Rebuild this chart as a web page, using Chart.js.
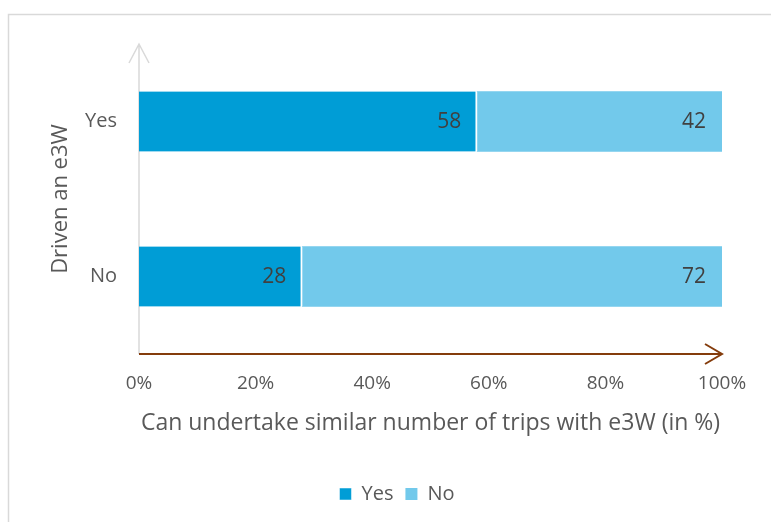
<!DOCTYPE html>
<html>
<head>
<meta charset="utf-8">
<script src="https://cdn.jsdelivr.net/npm/chart.js@4"></script>
<style>
  html, body { margin: 0; padding: 0; background: #ffffff; overflow: hidden; }
  canvas { display: block; }
</style>
</head>
<body>
<canvas id="chart" width="771" height="522"></canvas>
<script>
// Categories on the vertical axis (answer to "Driven an e3W")
const categories = ['Yes', 'No'];
// Share answering "Yes" / "No" to undertaking a similar number of trips (%)
const yesValues = [58, 28];
const noValues = [42, 72];
// Percent ticks along the horizontal axis
const xTicks = [0, 20, 40, 60, 80, 100];

const FONT = "'Open Sans', 'DejaVu Sans', sans-serif";
const TEXT_GREY = '#595959';

// Outer frame of the chart
const framePlugin = {
  id: 'frame',
  beforeDraw(chart) {
    const ctx = chart.ctx;
    ctx.save();
    ctx.fillStyle = '#ffffff';
    ctx.fillRect(0, 0, chart.width, chart.height);
    ctx.strokeStyle = '#d9d9d9';
    ctx.lineWidth = 1.5;
    ctx.strokeRect(8.5, 14.5, chart.width + 50, chart.height + 50);
    ctx.restore();
  },
  // keep the legend centred under the plot rather than the whole canvas
  afterLayout(chart) {
    const lg = chart.legend;
    if (lg) {
      lg.left += 36;
      lg.right += 36;
    }
  }
};

// Axis lines drawn as arrows
const arrowAxesPlugin = {
  id: 'arrowAxes',
  beforeDatasetsDraw(chart) {
    const {ctx, chartArea} = chart;
    const x0 = chart.scales.x.getPixelForValue(0);
    ctx.save();
    ctx.strokeStyle = '#d9d9d9';
    ctx.lineWidth = 1.5;
    ctx.beginPath();
    ctx.moveTo(x0, chartArea.bottom);
    ctx.lineTo(x0, chartArea.top);
    ctx.moveTo(x0 - 10, chartArea.top + 19);
    ctx.lineTo(x0, chartArea.top);
    ctx.lineTo(x0 + 10, chartArea.top + 19);
    ctx.stroke();
    ctx.restore();
  },
  afterDatasetsDraw(chart) {
    const {ctx, chartArea} = chart;
    const x0 = chart.scales.x.getPixelForValue(0);
    const x1 = chart.scales.x.getPixelForValue(100);
    const y = chartArea.bottom;
    ctx.save();
    ctx.strokeStyle = '#843c0c';
    ctx.lineWidth = 2;
    ctx.beginPath();
    ctx.moveTo(x0, y);
    ctx.lineTo(x1, y);
    ctx.moveTo(x1 - 17, y - 10);
    ctx.lineTo(x1, y);
    ctx.lineTo(x1 - 17, y + 10);
    ctx.stroke();
    ctx.restore();
  }
};

// Value labels placed inside the end of each bar segment
const valueLabelPlugin = {
  id: 'valueLabels',
  afterDatasetsDraw(chart) {
    const ctx = chart.ctx;
    ctx.save();
    ctx.font = "21px " + FONT;
    ctx.fillStyle = '#404040';
    ctx.textAlign = 'right';
    ctx.textBaseline = 'middle';
    chart.data.datasets.forEach((ds, di) => {
      const meta = chart.getDatasetMeta(di);
      meta.data.forEach((bar, i) => {
        ctx.fillText(String(ds.data[i]), bar.x - 16, bar.y + 1);
      });
    });
    ctx.restore();
  }
};

new Chart(document.getElementById('chart'), {
  type: 'bar',
  data: {
    labels: categories,
    datasets: [
      {
        label: 'Yes',
        data: yesValues,
        backgroundColor: '#009dd6',
        borderColor: '#ffffff',
        borderWidth: {top: 0, right: 2, bottom: 0, left: 0},
        borderSkipped: false,
        barThickness: 60
      },
      {
        label: 'No',
        data: noValues,
        backgroundColor: '#72c9eb',
        borderWidth: 0,
        barThickness: 60
      }
    ]
  },
  options: {
    indexAxis: 'y',
    responsive: false,
    animation: false,
    devicePixelRatio: 1,
    layout: {padding: {left: 0, top: 44, right: 49, bottom: 8}},
    plugins: {
      legend: {
        position: 'bottom',
        labels: {
          font: {family: FONT, size: 20},
          color: TEXT_GREY,
          boxWidth: 12,
          boxHeight: 12,
          padding: 12
        }
      },
      tooltip: {enabled: false}
    },
    scales: {
      x: {
        stacked: true,
        min: 0,
        max: 100,
        afterBuildTicks(scale) {
          scale.ticks = xTicks.map(v => ({value: v}));
        },
        afterFit(scale) { scale.height = 118; },
        grid: {display: false, drawTicks: false},
        border: {display: false},
        ticks: {
          padding: 18,
          color: TEXT_GREY,
          font: {family: FONT, size: 19},
          callback: v => v + '%'
        },
        title: {
          display: true,
          text: 'Can undertake similar number of trips with e3W (in %)',
          color: TEXT_GREY,
          font: {family: FONT, size: 23},
          padding: {top: 0, bottom: 35}
        }
      },
      y: {
        stacked: true,
        afterFit(scale) { scale.width = 139; },
        grid: {display: false, drawTicks: false},
        border: {display: false},
        ticks: {
          padding: 22,
          color: TEXT_GREY,
          font: {family: FONT, size: 20}
        },
        title: {
          display: true,
          text: 'Driven an e3W',
          color: TEXT_GREY,
          font: {family: FONT, size: 22},
          padding: {top: 48, bottom: 0}
        }
      }
    }
  },
  plugins: [framePlugin, arrowAxesPlugin, valueLabelPlugin]
});
</script>
</body>
</html>
